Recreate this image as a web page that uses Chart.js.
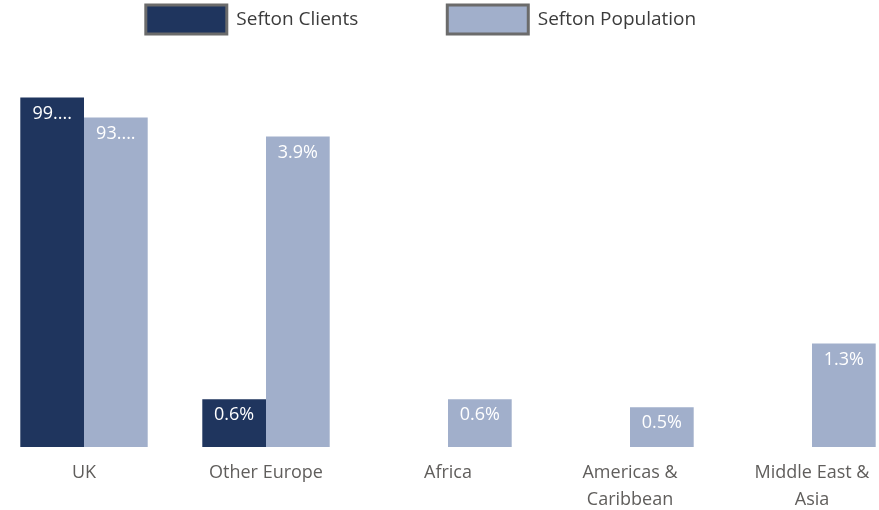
<!DOCTYPE html>
<html>
<head>
<meta charset="utf-8">
<script src="https://cdn.jsdelivr.net/npm/chart.js@4.4.1/dist/chart.umd.min.js"></script>
<style>
  html, body { margin: 0; padding: 0; background: #fff; overflow: hidden; }
  /* the plot runs slightly past both edges of the window in the original */
  #originChart { position: absolute; left: -7px; top: 0; }
</style>
</head>
<body>
<canvas id="originChart" width="910" height="510"></canvas>
<script>
const categories = ["UK", "Other Europe", "Africa", ["Americas &", "Caribbean"], ["Middle East &", "Asia"]];
const clientPct = [99.4, 0.6, null, null, null];
const populationPct = [93.7, 3.9, 0.6, 0.5, 1.3];
const seriesNames = ["Sefton Clients", "Sefton Population"];
const seriesColors = ["#1f355e", "#a1afcb"];

// in the original the UK pair sits on its own scale, the other regions share a second one
const ukOnly = (arr) => arr.map((v, i) => (i === 0 ? v : null));
const restOnly = (arr) => arr.map((v, i) => (i === 0 ? null : v));

const makeSet = (name, color, data, axis, stack) => ({
  label: name,
  data: data,
  backgroundColor: color,
  borderWidth: 0,
  yAxisID: axis,
  stack: stack,
  categoryPercentage: 0.7,
  barPercentage: 1.0,
});

const datasets = [
  makeSet(seriesNames[0], seriesColors[0], ukOnly(clientPct), "yUK", "clients"),
  makeSet(seriesNames[1], seriesColors[1], ukOnly(populationPct), "yUK", "population"),
  makeSet(seriesNames[0], seriesColors[0], restOnly(clientPct), "yOther", "clients"),
  makeSet(seriesNames[1], seriesColors[1], restOnly(populationPct), "yOther", "population"),
];

// white value labels at the top inside each bar
const barLabels = {
  id: "barLabels",
  afterDatasetsDraw(chart) {
    const ctx = chart.ctx;
    ctx.save();
    ctx.font = "18px 'Open Sans'";
    ctx.fillStyle = "#ffffff";
    ctx.textAlign = "center";
    ctx.textBaseline = "middle";
    chart.data.datasets.forEach((ds, di) => {
      chart.getDatasetMeta(di).data.forEach((bar, i) => {
        const v = ds.data[i];
        if (v === null) return;
        let txt = v.toFixed(1) + "%";
        if (ctx.measureText(txt).width > bar.width - 18) txt = Math.trunc(v) + "....";
        ctx.fillText(txt, bar.x, bar.y + 16);
      });
    });
    ctx.restore();
  },
};

// the legend row is not centred over the plot in the original
const legendShift = {
  id: "legendShift",
  afterLayout(chart) {
    chart.legend.left -= 27;
    chart.legend.right -= 27;
  },
};

const originChart = new Chart(document.getElementById("originChart"), {
  type: "bar",
  data: { labels: categories, datasets: datasets },
  plugins: [barLabels, legendShift],
  options: {
    responsive: false,
    animation: false,
    devicePixelRatio: 1,
    layout: { autoPadding: false, padding: { left: 0, right: 0, top: -84, bottom: -15 } },
    plugins: {
      tooltip: { enabled: false },
      legend: {
        position: "top",
        labels: {
          boxWidth: 81,
          boxHeight: 29,
          padding: 89,
          font: { family: "'Open Sans'", size: 19 },
          generateLabels: (chart) =>
            chart.data.datasets.slice(0, 2).map((ds, i) => ({
              text: ds.label,
              fillStyle: ds.backgroundColor,
              strokeStyle: "#6b6b6b",
              lineWidth: 3,
              fontColor: "#3b3b3b",
              hidden: false,
              datasetIndex: i,
            })),
        },
      },
    },
    scales: {
      x: {
        stacked: true,
        grid: { display: false, drawTicks: false },
        border: { display: false },
        ticks: {
          color: "#605e5c",
          font: { family: "'Open Sans'", size: 18, lineHeight: 1.5 },
          padding: 12,
          maxRotation: 0,
          autoSkip: false,
        },
      },
      yUK: { display: false, min: 0, max: 114.6 },
      yOther: { display: false, min: 0, max: 5.06 },
    },
  },
});
</script>
</body>
</html>
